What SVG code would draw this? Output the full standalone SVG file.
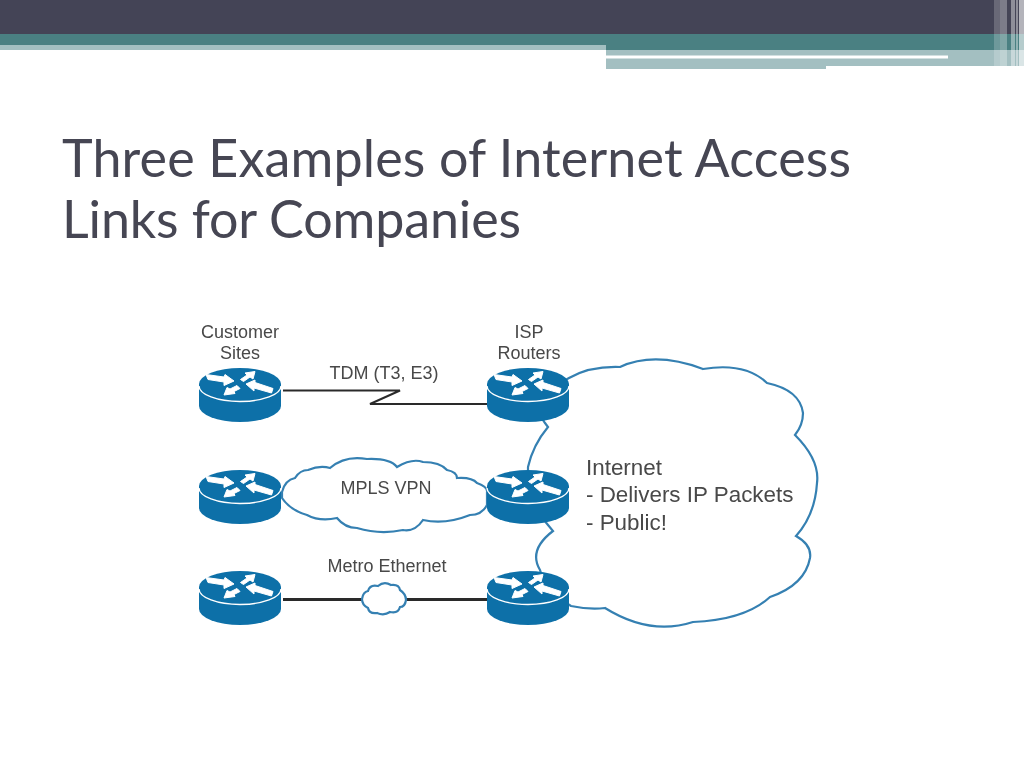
<svg xmlns="http://www.w3.org/2000/svg" xmlns:xlink="http://www.w3.org/1999/xlink" width="1024" height="768" viewBox="0 0 1024 768">
<style>
.title{font-family:"Lato","Liberation Sans",sans-serif;font-size:52px;fill:#464653}
.lbl{font-family:"Liberation Sans",Arial,sans-serif;font-size:18px;fill:#484848;text-anchor:middle}
.net{font-family:"Liberation Sans",Arial,sans-serif;font-size:22.400px;fill:#484848}
.cloud{fill:#fff;stroke:#3580b2;stroke-width:2.200;stroke-linejoin:miter}
.link{fill:none;stroke:#2c2c2c;stroke-width:2}
.thick{stroke-width:2.800}
.body{fill:#0e70a8}
.arrow{fill:#fff;stroke:#fff;stroke-width:1;stroke-linejoin:round}
.ring{fill:none;stroke:#fff;stroke-width:1.400}
</style>
<defs>
<filter id="soft" x="-5%" y="-5%" width="110%" height="110%"><feGaussianBlur stdDeviation="0.4"/></filter>
<g id="router">
<path class="body" d="M-41,0 V22 A41,16 0 0 0 41,22 V0 Z"/>
<ellipse class="body" cx="0" cy="0" rx="41" ry="16"/>
<path class="ring" d="M-41,2 A41,15.500 0 0 0 41,2"/>
<polygon class="arrow" points="-34,-9.500 -16,-7 -15,-9.500 -6,-3 -16,1.500 -16,-2 -32,-4.500"/>
<polygon class="arrow" points="15,-12.500 13,-5 10,-7 3.500,-2.500 0.500,-4.500 7,-9 5,-11"/>
<polygon class="arrow" points="6,0 15,-4 15,-1.500 33,4.500 31.500,9 14,4 14,7"/>
<polygon class="arrow" points="-16,11 -13,3.500 -10,5 -3,1.500 0,4.500 -6,7.500 -5,9.500"/>
</g>
</defs>
<rect width="1024" height="768" fill="#fff"/>
<g id="banner">
<rect width="1024" height="35" fill="#444456"/>
<rect y="34" width="1024" height="16" fill="#4a8082"/>
<rect y="45" width="606" height="5" fill="#a3bfc1"/>
<rect x="606" y="50" width="418" height="19" fill="#a3bfc1"/>
<rect x="606" y="55.500" width="342" height="3" fill="#fff"/>
<rect x="826" y="66" width="198" height="4" fill="#fff"/>
<g fill="#fff">
<rect x="994" y="0" width="6" height="66" opacity=".2"/>
<rect x="1000" y="0" width="7" height="66" opacity=".3"/>
<rect x="1011" y="0" width="4" height="69" opacity=".4"/>
<rect x="1016" y="0" width="2" height="69" opacity=".4"/>
<rect x="1019" y="0" width="5" height="69" opacity=".6"/>
</g>
</g>
<g id="title">
<text class="title" x="62" y="177" textLength="789" lengthAdjust="spacing">Three Examples of Internet Access</text>
<text class="title" x="62" y="238" textLength="459" lengthAdjust="spacing">Links for Companies</text>
</g>
<g id="diagram" filter="url(#soft)">
<g id="connectors">
<path class="link" d="M283,390.500 H400 L370,404 H487"/>
<path class="link thick" d="M283,599.500 H362 M406,599.500 H487"/>
</g>
<g id="internet-cloud">
<path class="cloud" d="M569,378 Q590,366 620,367 Q655,351 703,369 Q745,362 767,383 Q800,390 803,413 Q803,425 795,435 Q820,460 817,483 Q815,515 796,536 Q812,545 810,558 Q805,585 770,597 Q745,620 693,622 Q650,636 605,608 Q590,610 571,606 Q545,590 540,570 Q528,550 553,531 L548,525 L528,500 L528,467 Q533,445 548,427 L545,423 L530,400 Z"/>
<text class="net" x="586" y="475">Internet</text>
<text class="net" x="586" y="502">- Delivers IP Packets</text>
<text class="net" x="586" y="530">- Public!</text>
</g>
<g id="mpls-cloud">
<path class="cloud" d="M282,492 Q285,480 295,478 Q300,470 308,470 Q320,465 330,468 Q345,455 367,459 Q390,458 397,467 Q412,458 423,462 Q440,462 447,470 Q457,472 457,478 Q472,477 477,483 Q488,487 487,492 V505 Q482,515 470,515 Q445,525 423,520 Q415,532 403,530 Q380,535 357,528 Q345,528 337,518 Q320,522 307,515 Q290,510 282,498 Z"/>
<text class="lbl" x="386" y="494">MPLS VPN</text>
</g>
<g id="metro-cloud">
<path class="cloud" d="M362,599 Q363,592 368,591 Q370,584 378,586 Q384,581 391,585 Q399,584 400,590 Q406,594 406,600 Q405,607 400,607 Q398,614 390,612 Q384,616 377,613 Q369,614 368,608 Q362,605 362,599 Z"/>
<text class="lbl" x="387" y="572">Metro Ethernet</text>
</g>
<text class="lbl" x="384" y="379">TDM (T3, E3)</text>
<g id="customer-label">
<text class="lbl" x="240" y="338">Customer</text>
<text class="lbl" x="240" y="359">Sites</text>
</g>
<g id="isp-label">
<text class="lbl" x="529" y="338">ISP</text>
<text class="lbl" x="529" y="359">Routers</text>
</g>
<g id="router-c1"><use href="#router" xlink:href="#router" x="240" y="384"/></g>
<g id="router-c2"><use href="#router" xlink:href="#router" x="240" y="486"/></g>
<g id="router-c3"><use href="#router" xlink:href="#router" x="240" y="587"/></g>
<g id="router-i1"><use href="#router" xlink:href="#router" x="528" y="384"/></g>
<g id="router-i2"><use href="#router" xlink:href="#router" x="528" y="486"/></g>
<g id="router-i3"><use href="#router" xlink:href="#router" x="528" y="587"/></g>
</g>
</svg>
